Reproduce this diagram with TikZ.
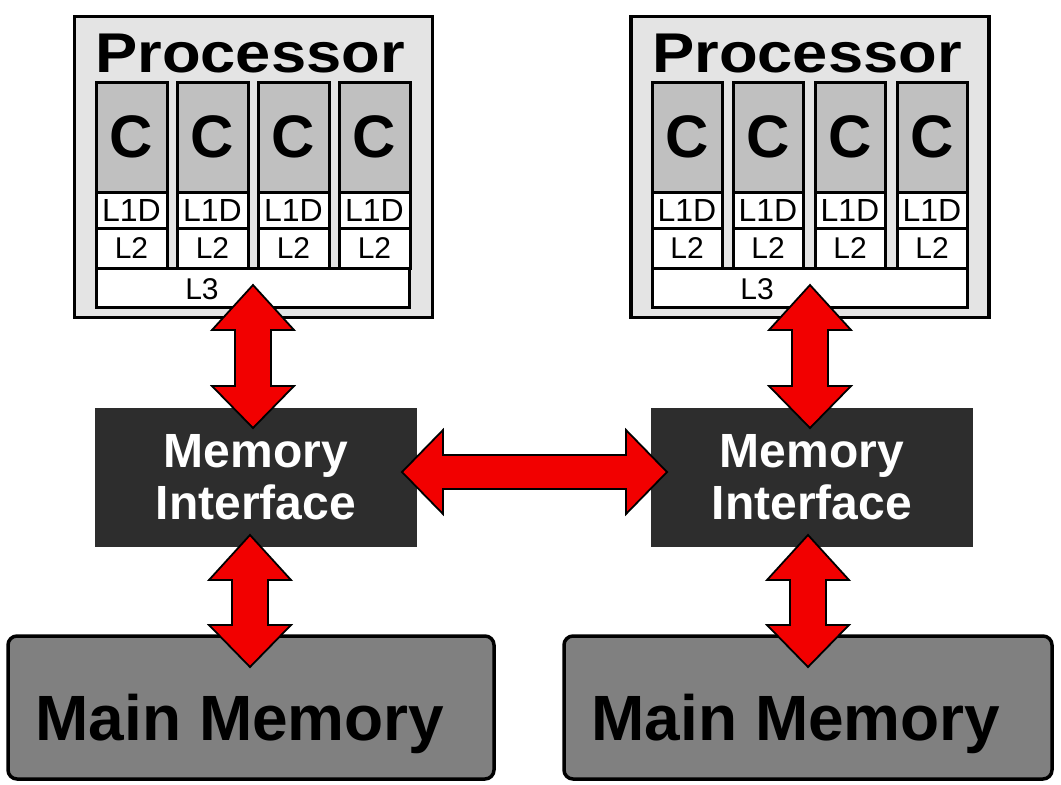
\documentclass[tikz,border=0pt]{standalone}
\usepackage{fontspec}
\setmainfont{Liberation Sans}
\usetikzlibrary{calc}
\definecolor{procgray}{HTML}{E4E4E4}
\definecolor{coregray}{HTML}{C0C0C0}
\definecolor{midark}{HTML}{2D2D2D}
\definecolor{mmgray}{HTML}{808080}
\definecolor{arrowred}{HTML}{F20000}
\newcommand\vdblarrow[2]{%
  \draw[bigarrow] let \p1=(#1), \p2=(#2) in
    (\x1,\y1) -- (\x1+41pt,\y1-45pt) -- (\x1+18pt,\y1-45pt) -- (\x1+18pt,\y2+42pt)
    -- (\x1+41pt,\y2+42pt) -- (\x2,\y2) -- (\x1-41pt,\y2+42pt) -- (\x1-18pt,\y2+42pt)
    -- (\x1-18pt,\y1-45pt) -- (\x1-41pt,\y1-45pt) -- cycle;}
\newcommand\hdblarrow[2]{%
  \draw[bigarrow] let \p1=(#1), \p2=(#2) in
    (\x1,\y1) -- (\x1+41pt,\y1+42pt) -- (\x1+41pt,\y1+17pt) -- (\x2-41pt,\y1+17pt)
    -- (\x2-41pt,\y1+42pt) -- (\x2,\y2) -- (\x2-41pt,\y1-42pt) -- (\x2-41pt,\y1-17pt)
    -- (\x1+41pt,\y1-17pt) -- (\x1+41pt,\y1-42pt) -- cycle;}
\begin{document}
\begin{tikzpicture}[x=1pt,y=-1pt,
  procbox/.style={draw=black, line width=3.5pt, fill=procgray, inner sep=0pt, minimum width=358pt, minimum height=301pt},
  proctext/.style={inner sep=0pt, anchor=base, font=\fontsize{56}{56}\selectfont\bfseries},
  cbox/.style={draw=black, line width=3pt, fill=coregray, inner sep=0pt, minimum width=71pt, minimum height=110pt, font=\fontsize{60}{60}\selectfont\bfseries},
  lbox/.style={draw=black, line width=3pt, fill=white, inner sep=0pt, minimum width=71pt},
  l1text/.style={font=\fontsize{32}{32}\selectfont},
  l2text/.style={font=\fontsize{30}{30}\selectfont},
  l3box/.style={draw=black, line width=3pt, fill=white, inner sep=0pt, minimum height=39pt},
  l3text/.style={inner sep=0pt, font=\fontsize{30}{30}\selectfont},
  mibox/.style={fill=midark, inner sep=0pt, minimum width=322pt, minimum height=139pt, text=white, align=center, font=\fontsize{48}{52}\selectfont\bfseries},
  mmbox/.style={draw=black, line width=3.5pt, fill=mmgray, rounded corners=9pt, inner sep=0pt, minimum width=486pt, minimum height=143pt},
  mmtext/.style={inner sep=0pt, anchor=base, font=\fontsize{64}{64}\selectfont\bfseries},
  bigarrow/.style={draw=black, line width=1.8pt, fill=arrowred, line join=miter}
]
\useasboundingbox (0,0) rectangle (1061,785);
\fill[white] (0,0) rectangle (1061,785);

% ---------- left processor ----------
\node[procbox] (procA) at (253.5,167) {};
\node[proctext] (procAt) at (250,72) {\scalebox{1.13}[1]{Processor}};
\foreach \cx [count=\i] in {131.5,212.5,293.5,374.5} {
  \node[cbox] (cA\i) at (\cx,137) {C};
  \node[lbox, minimum height=36pt, l1text] (lA\i) at (\cx,210) {L1D};
  \node[lbox, minimum height=40pt, l2text] (mA\i) at (\cx,248) {L2};
}
\node[l3box, minimum width=313pt] (l3A) at (252.5,287.5) {};
\node[l3text] (l3At) at (202,289) {L3};

% ---------- right processor ----------
\node[procbox] (procB) at (810,167) {};
\node[proctext] (procBt) at (807,72) {\scalebox{1.13}[1]{Processor}};
\foreach \cx [count=\i] in {687,768,850,932} {
  \node[cbox, minimum width=70pt] (cB\i) at (\cx,137) {C};
  \node[lbox, minimum width=70pt, minimum height=36pt, l1text] (lB\i) at (\cx,210) {L1D};
  \node[lbox, minimum width=70pt, minimum height=40pt, l2text] (mB\i) at (\cx,248) {L2};
}
\node[l3box, minimum width=315pt] (l3B) at (809.5,287.5) {};
\node[l3text] (l3Bt) at (757,289) {L3};

% ---------- memory interfaces ----------
\node[mibox] (miA) at (256,477.5) {Memory\\Interface};
\node[mibox] (miB) at (812,477.5) {Memory\\Interface};

% ---------- main memories ----------
\node[mmbox] (mmA) at (251,707.5) {};
\node[mmtext] (mmAt) at (240,740) {Main Memory};
\node[mmbox, minimum width=488pt] (mmB) at (808,707.5) {};
\node[mmtext] (mmBt) at (796,740) {Main Memory};

% ---------- arrows ----------
\coordinate (a1t) at (253,285);  \coordinate (a1b) at (253,428);
\coordinate (a2t) at (250,535);  \coordinate (a2b) at (250,667);
\coordinate (a3t) at (810,285);  \coordinate (a3b) at (810,428);
\coordinate (a4t) at (808,535);  \coordinate (a4b) at (808,667);
\coordinate (h1l) at (402,472);  \coordinate (h1r) at (667,472);
\vdblarrow{a1t}{a1b}
\vdblarrow{a2t}{a2b}
\vdblarrow{a3t}{a3b}
\vdblarrow{a4t}{a4b}
\hdblarrow{h1l}{h1r}
\end{tikzpicture}
\end{document}
